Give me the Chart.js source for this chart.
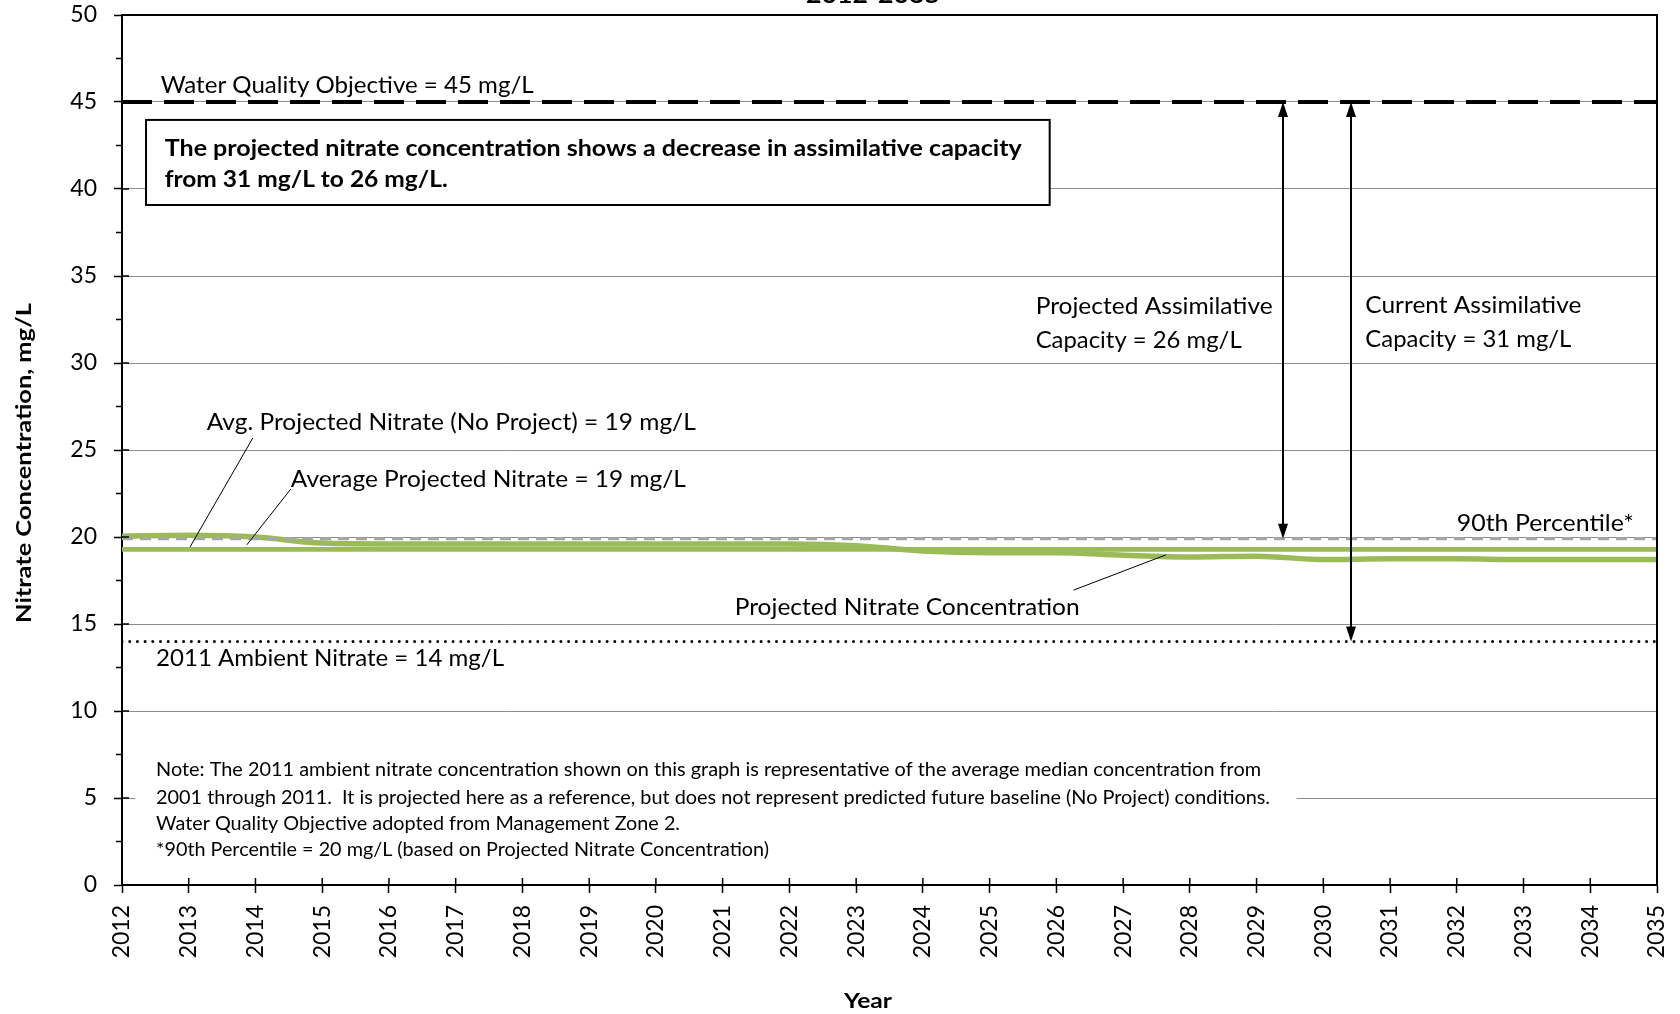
<!DOCTYPE html>
<html><head><meta charset="utf-8">
<script src="https://cdn.jsdelivr.net/npm/chart.js@4/dist/chart.umd.min.js"></script>
<style>html,body{margin:0;padding:0;background:#fff;overflow:hidden}</style>
</head><body>
<canvas id="c" width="1680" height="1014"></canvas>
<script>
// ---------- DATA ----------
const years = [2012,2013,2014,2015,2016,2017,2018,2019,2020,2021,2022,2023,2024,2025,2026,2027,2028,2029,2030,2031,2032,2033,2034,2035];
const projectedNitrate = [20.05,20.1,20.0,19.65,19.6,19.6,19.6,19.6,19.6,19.6,19.6,19.5,19.2,19.1,19.1,18.95,18.85,18.9,18.7,18.75,18.75,18.7,18.7,18.7];
const avgNoProjectLevel = [19.3];
const avgProjectedLevel = [19.3];
const percentile90Level = [19.9];
const waterQualityObjective = [45];
const ambient2011 = [14];
const yTickValues = [0,5,10,15,20,25,30,35,40,45,50];
const yMinorTicks = [2.5,7.5,12.5,17.5,22.5,27.5,32.5,37.5,42.5,47.5];

const FONT = 'Lato';
const GREEN = '#9BBB59';

function flat(level){ return [{x:years[0], y:level[0]}, {x:years[years.length-1], y:level[0]}]; }

const datasets = [
  {label:'Water Quality Objective', data:flat(waterQualityObjective), borderColor:'#000', borderWidth:4, borderDash:[30,12], pointRadius:0, order:1},
  {label:'2011 Ambient Nitrate', data:flat(ambient2011), borderColor:'#000', borderWidth:3, borderDash:[0,7.7], borderCapStyle:'round', pointRadius:0, order:1},
  {label:'90th Percentile', data:flat(percentile90Level), borderColor:'#A6A6A6', borderWidth:3, borderDash:[11,7], pointRadius:0, order:2},
  {label:'Projected Nitrate Concentration', data:years.map((y,i)=>({x:y,y:projectedNitrate[i]})), borderColor:GREEN, borderWidth:5.5, pointRadius:0, cubicInterpolationMode:'monotone', order:3},
  {label:'Average Projected Nitrate', data:flat(avgProjectedLevel), borderColor:GREEN, borderWidth:4.5, pointRadius:0, order:4},
  {label:'Avg. Projected Nitrate (No Project)', data:flat(avgNoProjectLevel), borderColor:GREEN, borderWidth:4.5, pointRadius:0, order:5}
];

// ---------- annotation helpers ----------
function fitText(ctx, text, x, y, width, size, weight){
  ctx.font = `${weight||'normal'} ${size}px ${FONT}`;
  const w = ctx.measureText(text).width;
  ctx.save();
  ctx.translate(x, y);
  ctx.scale(width / w, 1);
  ctx.fillText(text, 0, 0);
  ctx.restore();
}

const labels = [
  {t:'Water Quality Objective = 45 mg/L', x:2012.58, y:45.95, w:373, s:23.5},
  {t:'Projected Assimilative', x:2025.69, y:33.25, w:237, s:23.5},
  {t:'Capacity = 26 mg/L', x:2025.69, y:31.3, w:206, s:23.5},
  {t:'Current Assimilative', x:2030.63, y:33.3, w:216, s:23.5},
  {t:'Capacity = 31 mg/L', x:2030.63, y:31.35, w:206, s:23.5},
  {t:'Avg. Projected Nitrate (No Project) = 19 mg/L', x:2013.27, y:26.6, w:489, s:23.5},
  {t:'Average Projected Nitrate = 19 mg/L', x:2014.53, y:23.3, w:395, s:23.5},
  {t:'90th Percentile*', x:2032.0, y:20.8, w:177, s:23.5},
  {t:'Projected Nitrate Concentration', x:2021.18, y:15.98, w:345, s:23.5},
  {t:'2011 Ambient Nitrate = 14 mg/L', x:2012.51, y:13.05, w:348, s:23.5}
];
const noteLines = [
  'Note: The 2011 ambient nitrate concentration shown on this graph is representative of the average median concentration from',
  '2001 through 2011.  It is projected here as a reference, but does not represent predicted future baseline (No Project) conditions.',
  'Water Quality Objective adopted from Management Zone 2.',
  '*90th Percentile = 20 mg/L (based on Projected Nitrate Concentration)'
];
const noteY = [6.61, 5.02, 3.51, 2.02];
const noteW = [1105, 1114, 524, 613];
const boxLines = ['The projected nitrate concentration shows a decrease in assimilative capacity', 'from 31 mg/L to 26 mg/L.'];
const boxY = [42.33, 40.57];
const boxW = [857, 283];
const leaders = [
  [2013.96, 25.69, 2013.02, 19.43],
  [2014.53, 22.76, 2013.87, 19.55],
  [2026.26, 16.95, 2027.64, 18.97]
];
const arrows = [
  {x:2029.4, top:45, bottom:percentile90Level[0]},
  {x:2030.42, top:45, bottom:ambient2011[0]}
];

const annot = {
  id:'annot',
  beforeDatasetsDraw(chart){
    const ctx = chart.ctx, xs = chart.scales.x, ys = chart.scales.y;
    ctx.save();
    ctx.fillStyle = '#fff';
    ctx.fillRect(xs.getPixelForValue(2012.2), ys.getPixelForValue(7.7), xs.getPixelForValue(2029.6)-xs.getPixelForValue(2012.2), ys.getPixelForValue(1.4)-ys.getPixelForValue(7.7));
    const bx = xs.getPixelForValue(2012.36), by = ys.getPixelForValue(43.97);
    const bw = xs.getPixelForValue(2025.9) - bx, bh = ys.getPixelForValue(39.08) - by;
    ctx.fillRect(bx, by, bw, bh);
    ctx.strokeStyle = '#000'; ctx.lineWidth = 2;
    ctx.strokeRect(bx, by, bw, bh);
    ctx.restore();
  },
  afterDraw(chart){
    const ctx = chart.ctx, xs = chart.scales.x, ys = chart.scales.y, ca = chart.chartArea;
    ctx.save();
    ctx.strokeStyle = '#000'; ctx.lineWidth = 2;
    ctx.beginPath();
    ctx.moveTo(ca.left, ca.top); ctx.lineTo(ca.right, ca.top); ctx.lineTo(ca.right, ca.bottom);
    ctx.stroke();
    ctx.lineWidth = 1.5;
    ctx.beginPath();
    yTickValues.forEach(v => { const p = ys.getPixelForValue(v); ctx.moveTo(ca.left, p); ctx.lineTo(ca.left + 7, p); });
    yMinorTicks.forEach(v => { const p = ys.getPixelForValue(v); ctx.moveTo(ca.left - 6, p); ctx.lineTo(ca.left, p); });
    years.forEach(v => { const p = xs.getPixelForValue(v); ctx.moveTo(p, ca.bottom - 7); ctx.lineTo(p, ca.bottom); });
    ctx.stroke();

    ctx.fillStyle = '#000'; ctx.textBaseline = 'middle'; ctx.textAlign = 'left';
    labels.forEach(l => fitText(ctx, l.t, xs.getPixelForValue(l.x), ys.getPixelForValue(l.y), l.w, l.s));
    boxLines.forEach((t,i) => fitText(ctx, t, xs.getPixelForValue(2012.64), ys.getPixelForValue(boxY[i]), boxW[i], 23, 'bold'));
    noteLines.forEach((t,i) => fitText(ctx, t, xs.getPixelForValue(2012.51), ys.getPixelForValue(noteY[i]), noteW[i], 18.5));

    ctx.strokeStyle = '#000'; ctx.lineWidth = 1;
    ctx.beginPath();
    leaders.forEach(l => { ctx.moveTo(xs.getPixelForValue(l[0]), ys.getPixelForValue(l[1])); ctx.lineTo(xs.getPixelForValue(l[2]), ys.getPixelForValue(l[3])); });
    ctx.stroke();

    arrows.forEach(a => {
      const x = Math.round(xs.getPixelForValue(a.x)), y1 = ys.getPixelForValue(a.top), y2 = ys.getPixelForValue(a.bottom);
      ctx.lineWidth = 2;
      ctx.beginPath(); ctx.moveTo(x, y1 + 10); ctx.lineTo(x, y2 - 10); ctx.stroke();
      ctx.beginPath(); ctx.moveTo(x, y1); ctx.lineTo(x - 5, y1 + 15); ctx.lineTo(x + 5, y1 + 15); ctx.closePath(); ctx.fill();
      ctx.beginPath(); ctx.moveTo(x, y2); ctx.lineTo(x - 5, y2 - 15); ctx.lineTo(x + 5, y2 - 15); ctx.closePath(); ctx.fill();
    });

    ctx.save();
    ctx.translate(24, 463); ctx.rotate(-Math.PI/2);
    fitText(ctx, 'Nitrate Concentration, mg/L', -160, 0, 320, 21, 'bold');
    ctx.restore();
    fitText(ctx, 'Year', 844, 1001, 48, 21, 'bold');
    ctx.textBaseline = 'alphabetic';
    fitText(ctx, '2012-2035', 806, 3, 134, 23, 'bold');
    ctx.restore();
  }
};

new Chart(document.getElementById('c'), {
  type:'line',
  data:{datasets},
  options:{
    responsive:false, animation:false, devicePixelRatio:1,
    layout:{padding:{top:15, right:23, left:0, bottom:0}},
    plugins:{legend:{display:false}, tooltip:{enabled:false}, title:{display:false}},
    scales:{
      x:{
        type:'linear', min:years[0], max:years[years.length-1],
        afterBuildTicks(s){ s.ticks = years.map(v=>({value:v})); },
        afterFit(s){ s.height = 129; s.paddingLeft = 0; s.paddingRight = 0; },
        ticks:{autoSkip:false, maxRotation:90, minRotation:90, padding:12, color:'#000', font:{family:FONT, size:23}, callback:v=>String(v)},
        grid:{drawOnChartArea:false, drawTicks:true, tickLength:8, tickColor:'#000', tickWidth:1.5},
        border:{color:'#000', width:2}
      },
      y:{
        min:0, max:50,
        afterBuildTicks(s){ s.ticks = yTickValues.map(v=>({value:v})); },
        afterFit(s){ s.width = 122; s.paddingTop = 0; s.paddingBottom = 0; },
        ticks:{padding:17, color:'#000', font:{family:FONT, size:23}, callback:v=>String(v)},
        grid:{color:c => (c.tick && (c.tick.value===0 || c.tick.value===50)) ? 'rgba(0,0,0,0)' : '#8C8C8C', lineWidth:1, drawTicks:true, tickLength:8, tickColor:'#000', tickWidth:1.5},
        border:{color:'#000', width:2}
      }
    }
  },
  plugins:[annot]
});
</script>
</body></html>
